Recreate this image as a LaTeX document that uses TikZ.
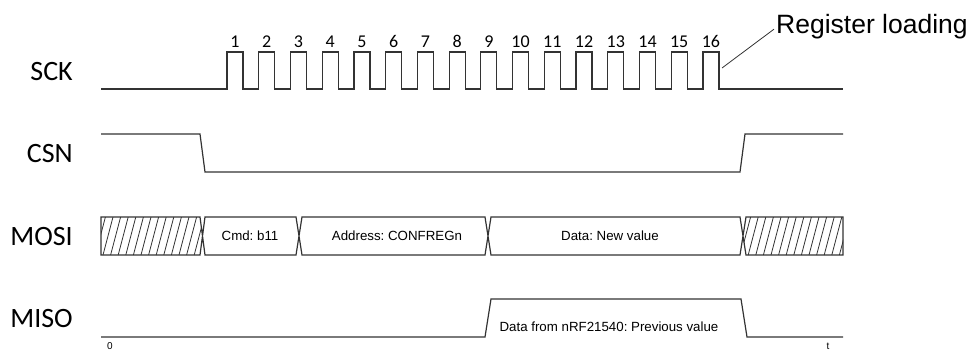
\documentclass[tikz,border=0pt]{standalone}
\usepackage{fontspec}
\setmainfont{Liberation Sans}
\newfontfamily\calibri{Carlito}
\frenchspacing
\tikzset{
  wave/.style     = {draw=black!80, line width=1.2pt, line join=miter},
  hatchline/.style= {draw=black!80, line width=0.8pt},
  signame/.style  = {font=\calibri\fontsize{28}{30}\selectfont, anchor=base east, inner sep=0pt},
  ticknum/.style  = {font=\calibri\fontsize{18}{20}\selectfont, anchor=base, inner sep=0pt},
  buslabel/.style = {font=\fontsize{13.3}{15}\selectfont},
  axislabel/.style= {font=\fontsize{10}{12}\selectfont, anchor=base, inner sep=0pt},
  note/.style     = {font=\fontsize{26.5}{29}\selectfont, anchor=base west, inner sep=0pt}
}
\begin{document}
\begin{tikzpicture}[x=1pt,y=-1pt]
  \useasboundingbox (0,0) rectangle (969,351);

  % signal names
  \node[signame] (sck)  at (73,80)  {SCK};
  \node[signame] (csn)  at (73,162) {CSN};
  \node[signame] (mosi) at (73,245) {MOSI};
  \node[signame] (miso) at (73,327) {MISO};

  % SCK
  \draw[wave] (101,89)
    \foreach \i in {0,...,15} { -- ({227+31.73*\i},89) -- ++(0,-37) -- ++(16,0) -- ++(0,37) }
    -- (843,89);
  \foreach \i in {1,...,16}
    \node[ticknum] (n\i) at ({227+31.73*(\i-1)+8},47) {\i};

  \coordinate (load) at (722,68);
  \node[note] (reg) at (776,33) {Register loading};
  \draw[black!80, line width=0.8pt] (load) -- ([xshift=-2pt,yshift=-3pt]reg.west);

  % CSN
  \draw[wave] (101,134) -- (200,134) -- (205,172) -- (740,172) -- (745,134) -- (843,134);

  % MOSI
  \begin{scope}
    \clip (101,217) -- (200,217) -- (202.5,236) -- (200,255) -- (101,255) -- cycle;
    \foreach \x in {95.4,103,...,215} \draw[hatchline] (\x,255) -- ++(10,-38);
  \end{scope}
  \begin{scope}
    \clip (843,217) -- (746,217) -- (743,236) -- (746,255) -- (843,255) -- cycle;
    \foreach \x in {733,740.6,...,850} \draw[hatchline] (\x,255) -- ++(10,-38);
  \end{scope}
  \draw[wave] (101,217) -- (200,217) -- (205,255) -- (296,255) -- (302,217) -- (485,217)
    -- (491,255) -- (740,255) -- (746,217) -- (843,217) -- (843,255) -- (746,255)
    -- (740,217) -- (491,217) -- (485,255) -- (302,255) -- (296,217) -- (205,217)
    -- (200,255) -- (101,255) -- cycle;
  \node[buslabel] (cmd)  at (250,236) {Cmd: b11};
  \node[buslabel] (addr) at (397,236) {Address: CONFREGn};
  \node[buslabel] (data) at (610,236) {Data: New value};

  % MISO
  \draw[wave] (101,337) -- (485,337) -- (491,299) -- (741,299) -- (747,337) -- (843,337);
  \node[buslabel] (prev) at (609,327) {Data from nRF21540: Previous value};

  % time axis
  \node[axislabel] (t0) at (110,349.5) {0};
  \node[axislabel] (t1) at (828,349.5) {t};
\end{tikzpicture}
\end{document}
